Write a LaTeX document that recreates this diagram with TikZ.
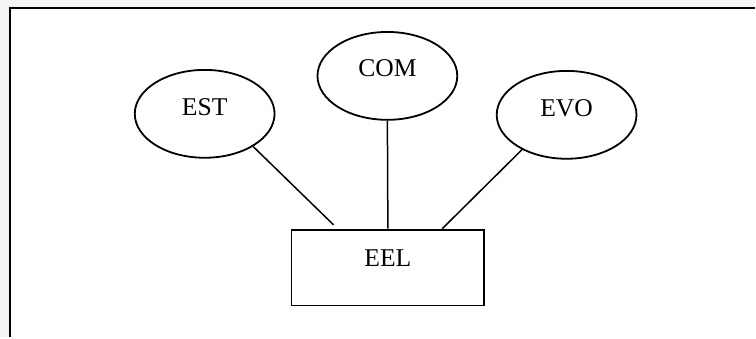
\documentclass[tikz,border=0pt]{standalone}
\usepackage{fontspec}
\setmainfont{Liberation Serif}
\usepackage{xcolor}
\usetikzlibrary{shapes.geometric}

\begin{document}
\begin{tikzpicture}[x=0.5pt, y=-0.5pt, inner sep=0pt]
		\tikzstyle{every node}=[align=center, font=\fontsize{12.8}{15}\selectfont]
		\tikzstyle{oval}=[draw, ellipse, line width=0.9pt, minimum width=70pt, minimum height=44pt]
		\tikzstyle{box}=[draw, rectangle, line width=0.9pt, minimum width=96.5pt, minimum height=38pt]
		\tikzstyle{link}=[line width=0.75pt]

			% page and frame
			\fill[gray!8] (0, 0) rectangle (756, 338);
			\fill[white] (10, 8) rectangle (756, 338);
			\draw[line width=1.2pt] (10, 338) -- (10, 8) -- (756, 8);
			\useasboundingbox (0, 0) rectangle (756, 338);

			\node[oval] (est) at (205, 114) {};
			\node[oval] (com) at (388, 76) {};
			\node[oval] (evo) at (567.5, 115) {};
			\node[box] (eel) at (388.5, 268) {};

			\node (esttxt) at ([yshift=3.5pt]est.center) {EST};
			\node (comtxt) at ([yshift=4pt]com.center) {COM};
			\node (evotxt) at ([yshift=3.5pt]evo.center) {EVO};
			\node (eeltxt) at ([yshift=4.75pt]eel.center) {EEL};

			\draw[link, shorten >=2.8pt] (est.-34) -- ([xshift=23.5pt]eel.north west);
			\draw[link] (com.south) -- (eel.north);
			\draw[link] (evo.-142) -- ([xshift=-21.5pt]eel.north east);
\end{tikzpicture}
\end{document}
